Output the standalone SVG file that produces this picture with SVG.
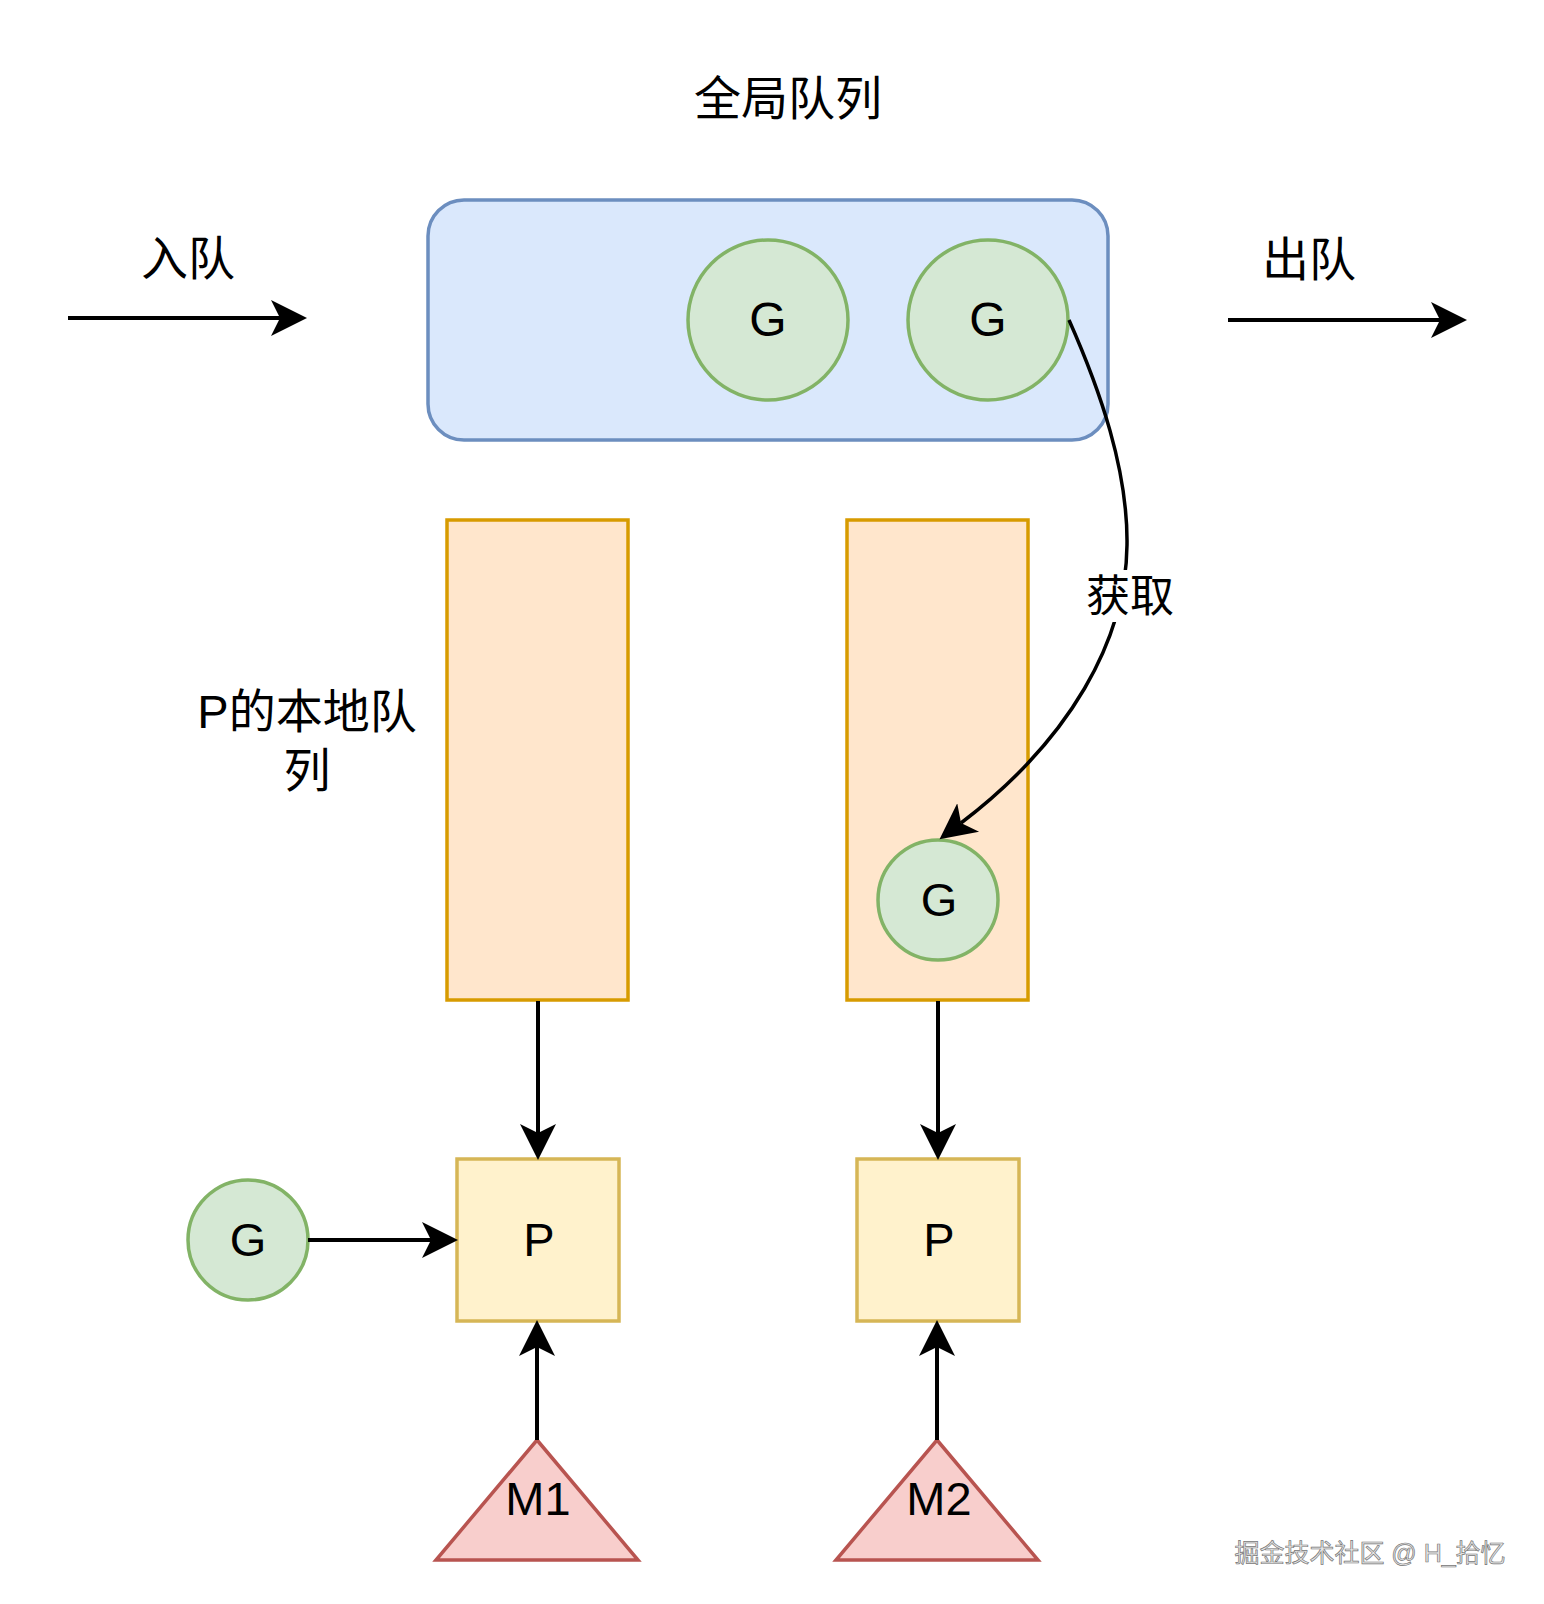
<svg xmlns="http://www.w3.org/2000/svg" width="1544" height="1604" viewBox="0 0 1544 1604">
<style>
text{font-family:"Liberation Sans","Noto Sans CJK SC",sans-serif;fill:#000;text-anchor:middle;dominant-baseline:central}
.g{fill:#d5e8d4;stroke:#82b366;stroke-width:3.5}
.q{fill:#ffe6cc;stroke:#d79b00;stroke-width:3.5}
.p{fill:#fff2cc;stroke:#d6b656;stroke-width:3.5}
.m{fill:#f8cecc;stroke:#b85450;stroke-width:3.5}
.e{fill:none;stroke:#000;stroke-width:4}
.lbl{font-size:47px}
</style>
<defs>
<marker id="ar" markerUnits="userSpaceOnUse" viewBox="0 -19 37 38" refX="9" refY="0" markerWidth="37" markerHeight="38" orient="auto">
<path d="M0,-18 L36,0 L0,18 L9,0 Z" fill="#000"/>
</marker>
</defs>
<rect width="1544" height="1604" fill="#fff"/>
<text class="lbl" x="788" y="98">全局队列</text>
<text class="lbl" x="188" y="258">入队</text>
<text class="lbl" x="1309" y="259">出队</text>
<g id="global-queue"><rect x="428" y="200" width="680" height="240" rx="36" fill="#dae8fc" stroke="#6c8ebf" stroke-width="3.5"/></g>
<g id="g1"><circle class="g" cx="768" cy="320" r="80"/><text x="768" y="319" font-size="48">G</text></g>
<g id="g2"><circle class="g" cx="988" cy="320" r="80"/><text x="988" y="319" font-size="48">G</text></g>
<g id="local1"><rect class="q" x="447" y="520" width="181" height="480"/></g>
<g id="local2"><rect class="q" x="847" y="520" width="181" height="480"/></g>
<g id="local-label"><text class="lbl" x="307" y="711">P的本地队</text><text class="lbl" x="307" y="770">列</text></g>
<g id="g3"><circle class="g" cx="938" cy="900" r="60"/><text x="939" y="899" font-size="47">G</text></g>
<g id="g4"><circle class="g" cx="248" cy="1240" r="60"/><text x="248" y="1239" font-size="47">G</text></g>
<g id="p1"><rect class="p" x="457" y="1159" width="162" height="162"/><text x="539" y="1239" font-size="47">P</text></g>
<g id="p2"><rect class="p" x="857" y="1159" width="162" height="162"/><text x="939" y="1239" font-size="47">P</text></g>
<g id="m1"><polygon class="m" points="537,1440 638,1560 436,1560"/><text x="538" y="1498" font-size="47">M1</text></g>
<g id="m2"><polygon class="m" points="937,1440 1038,1560 836,1560"/><text x="939" y="1498" font-size="47">M2</text></g>
<g id="connectors">
<line class="e" x1="68" y1="318" x2="280" y2="318" marker-end="url(#ar)"/>
<line class="e" x1="1228" y1="320" x2="1440" y2="320" marker-end="url(#ar)"/>
<line class="e" x1="538" y1="1001" x2="538" y2="1133" marker-end="url(#ar)"/>
<line class="e" x1="938" y1="1001" x2="938" y2="1133" marker-end="url(#ar)"/>
<line class="e" x1="308" y1="1240" x2="431" y2="1240" marker-end="url(#ar)"/>
<line class="e" x1="537" y1="1440" x2="537" y2="1347" marker-end="url(#ar)"/>
<line class="e" x1="937" y1="1440" x2="937" y2="1347" marker-end="url(#ar)"/>
<path class="e" style="stroke-width:3.5" d="M1069,320 C1100,390 1128,470 1127,545 C1126,640 1070,740 961,823" marker-end="url(#ar)"/>
<rect x="1084" y="570" width="92" height="52" fill="#fff"/>
<text x="1130" y="596" font-size="44">获取</text>
</g>
<text x="1370" y="1553" font-size="25" style="fill:#e6e6e6;stroke:#777;stroke-width:0.7">掘金技术社区 @ H_拾忆</text>
</svg>
